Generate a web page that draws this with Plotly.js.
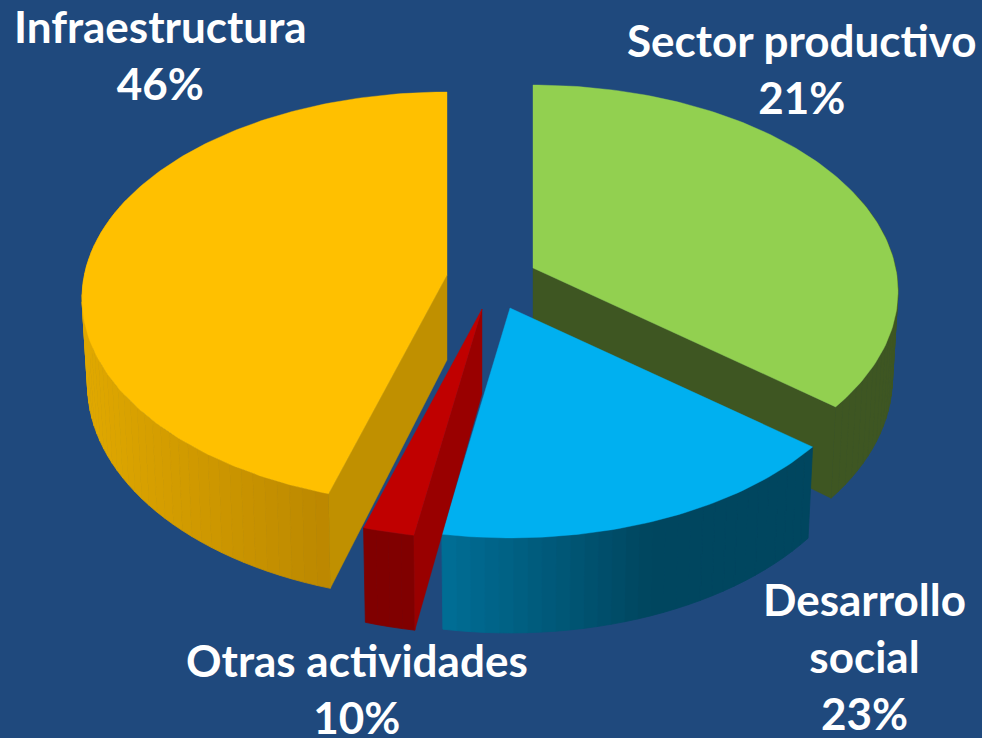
<!DOCTYPE html>
<html>
<head>
<meta charset="utf-8">
<script src="https://cdn.plot.ly/plotly-3.0.1.min.js"></script>
<style>html,body{margin:0;padding:0;background:#1F497D;overflow:hidden}#chart{width:982px;height:738px}</style>
</head>
<body>
<div id="chart"></div>
<script>
// ---- data ----
const categories = ["Sector productivo", "Desarrollo social", "Otras actividades", "Infraestructura"];
const labelPercents = [21, 23, 10, 46];           // the printed percentages
const drawnShares = [35.9, 16.77, 2.03, 45.3];    // the angular share each slice really occupies in the drawing
const topColors = ["#92D050", "#00B0F0", "#C00000", "#FFC000"];
const wallColors = ["#3E5622", "#004860", "#990000", "#C09000"];
const sideStartColors = [[62,86,34], [0,110,150], [128,0,0], [224,168,0]];
const sideEndColors = [[62,86,34], [0,70,95], [128,0,0], [170,120,0]];
const apexX = [533, 510, 482, 447];
const apexY = [268, 308, 309, 275];
const labelLines = [["Sector productivo"], ["Desarrollo", "social"], ["Otras actividades"], ["Infraestructura"]];
const labelX = [802, 864, 357, 160];
const labelY = [68, 656, 688, 54];

// ---- projection of the tilted disc ----
const persp = 0.1137, radiusX = 362.6, radiusY = 203.8, floorScale = 0.985;
function topPoint(i, deg) {
  const a = deg * Math.PI / 180, u = Math.sin(a), v = Math.cos(a), w = 1 + persp * v;
  return [apexX[i] + radiusX * u / w, apexY[i] - radiusY * v / w, v];
}
function floorPoint(i, deg) {
  const p = topPoint(i, deg);
  return [apexX[i] + (p[0] - apexX[i]) * floorScale, p[1] + 85 - 10 * p[2]];
}
function poly(pts, color, stroke) {
  return {
    type: "scatter", mode: "lines", fill: "toself", fillcolor: color,
    x: pts.map(p => p[0]), y: pts.map(p => p[1]),
    line: {color: color, width: stroke || 0.6},
    hoverinfo: "skip", showlegend: false
  };
}
function mix(a, b, t) {
  return "rgb(" + a.map((c, j) => Math.round(c + (b[j] - c) * t)).join(",") + ")";
}

const total = drawnShares.reduce((s, d) => s + d, 0);
const starts = [];
let acc = 0;
drawnShares.forEach(d => { starts.push(acc); acc += d / total * 360; });
const ends = starts.map((s, i) => s + drawnShares[i] / total * 360);

function sliceTraces(i) {
  const out = [], s = starts[i], e = ends[i];
  const steps = Math.max(4, Math.round((e - s) / 2));
  const angle = n => s + (e - s) * n / steps;
  // outer rim, in narrow strips shaded left to right
  const xs = [];
  for (let n = 0; n <= steps; n++) xs.push(topPoint(i, angle(n))[0]);
  const lo = Math.min(...xs), hi = Math.max(...xs);
  for (let n = 0; n < steps; n++) {
    const a0 = angle(n), a1 = angle(n + 1);
    const pa = topPoint(i, a0), pb = topPoint(i, a1), fa = floorPoint(i, a0), fb = floorPoint(i, a1);
    if (pa[2] > 0.35 && pb[2] > 0.35) continue;
    const t = ((pa[0] + pb[0]) / 2 - lo) / (hi - lo);
    const tt = i === 1 ? Math.min(1, t / 0.56) : t;
    out.push(poly([pa, pb, fb, fa, pa], mix(sideStartColors[i], sideEndColors[i], tt), 0.8));
  }
  // cut wall
  if (i === 0 || i === 2 || i === 3) {
    const wallAngle = i === 0 ? e : s;
    const p = topPoint(i, wallAngle), f = floorPoint(i, wallAngle);
    out.push(poly([[apexX[i], apexY[i]], p, f, [apexX[i], apexY[i] + 85], [apexX[i], apexY[i]]], wallColors[i], 0.4));
  }
  // top face
  const face = [[apexX[i], apexY[i]]];
  const fine = Math.max(8, Math.round(e - s));
  for (let n = 0; n <= fine; n++) face.push(topPoint(i, s + (e - s) * n / fine));
  face.push([apexX[i], apexY[i]]);
  out.push(poly(face, topColors[i], 0.4));
  return out;
}

const traces = [].concat(sliceTraces(0), sliceTraces(3), sliceTraces(1), sliceTraces(2));

const annotations = categories.map((c, i) => ({
  xref: "x", yref: "y", x: labelX[i], y: labelY[i],
  xanchor: "center", yanchor: "middle", align: "center", showarrow: false,
  text: labelLines[i].concat([labelPercents[i] + "%"]).map(t => "<b>" + t + "</b>").join("<br>"),
  font: {family: "Lato, 'Open Sans', sans-serif", size: 44, color: "#FFFFFF"}
}));

const layout = {
  width: 982, height: 738,
  margin: {l: 0, r: 0, t: 0, b: 0},
  paper_bgcolor: "#1F497D", plot_bgcolor: "#1F497D",
  xaxis: {range: [0, 982], visible: false, fixedrange: true},
  yaxis: {range: [738, 0], visible: false, fixedrange: true},
  showlegend: false,
  annotations: annotations
};
Plotly.newPlot("chart", traces, layout, {displayModeBar: false, staticPlot: true});
</script>
</body>
</html>
